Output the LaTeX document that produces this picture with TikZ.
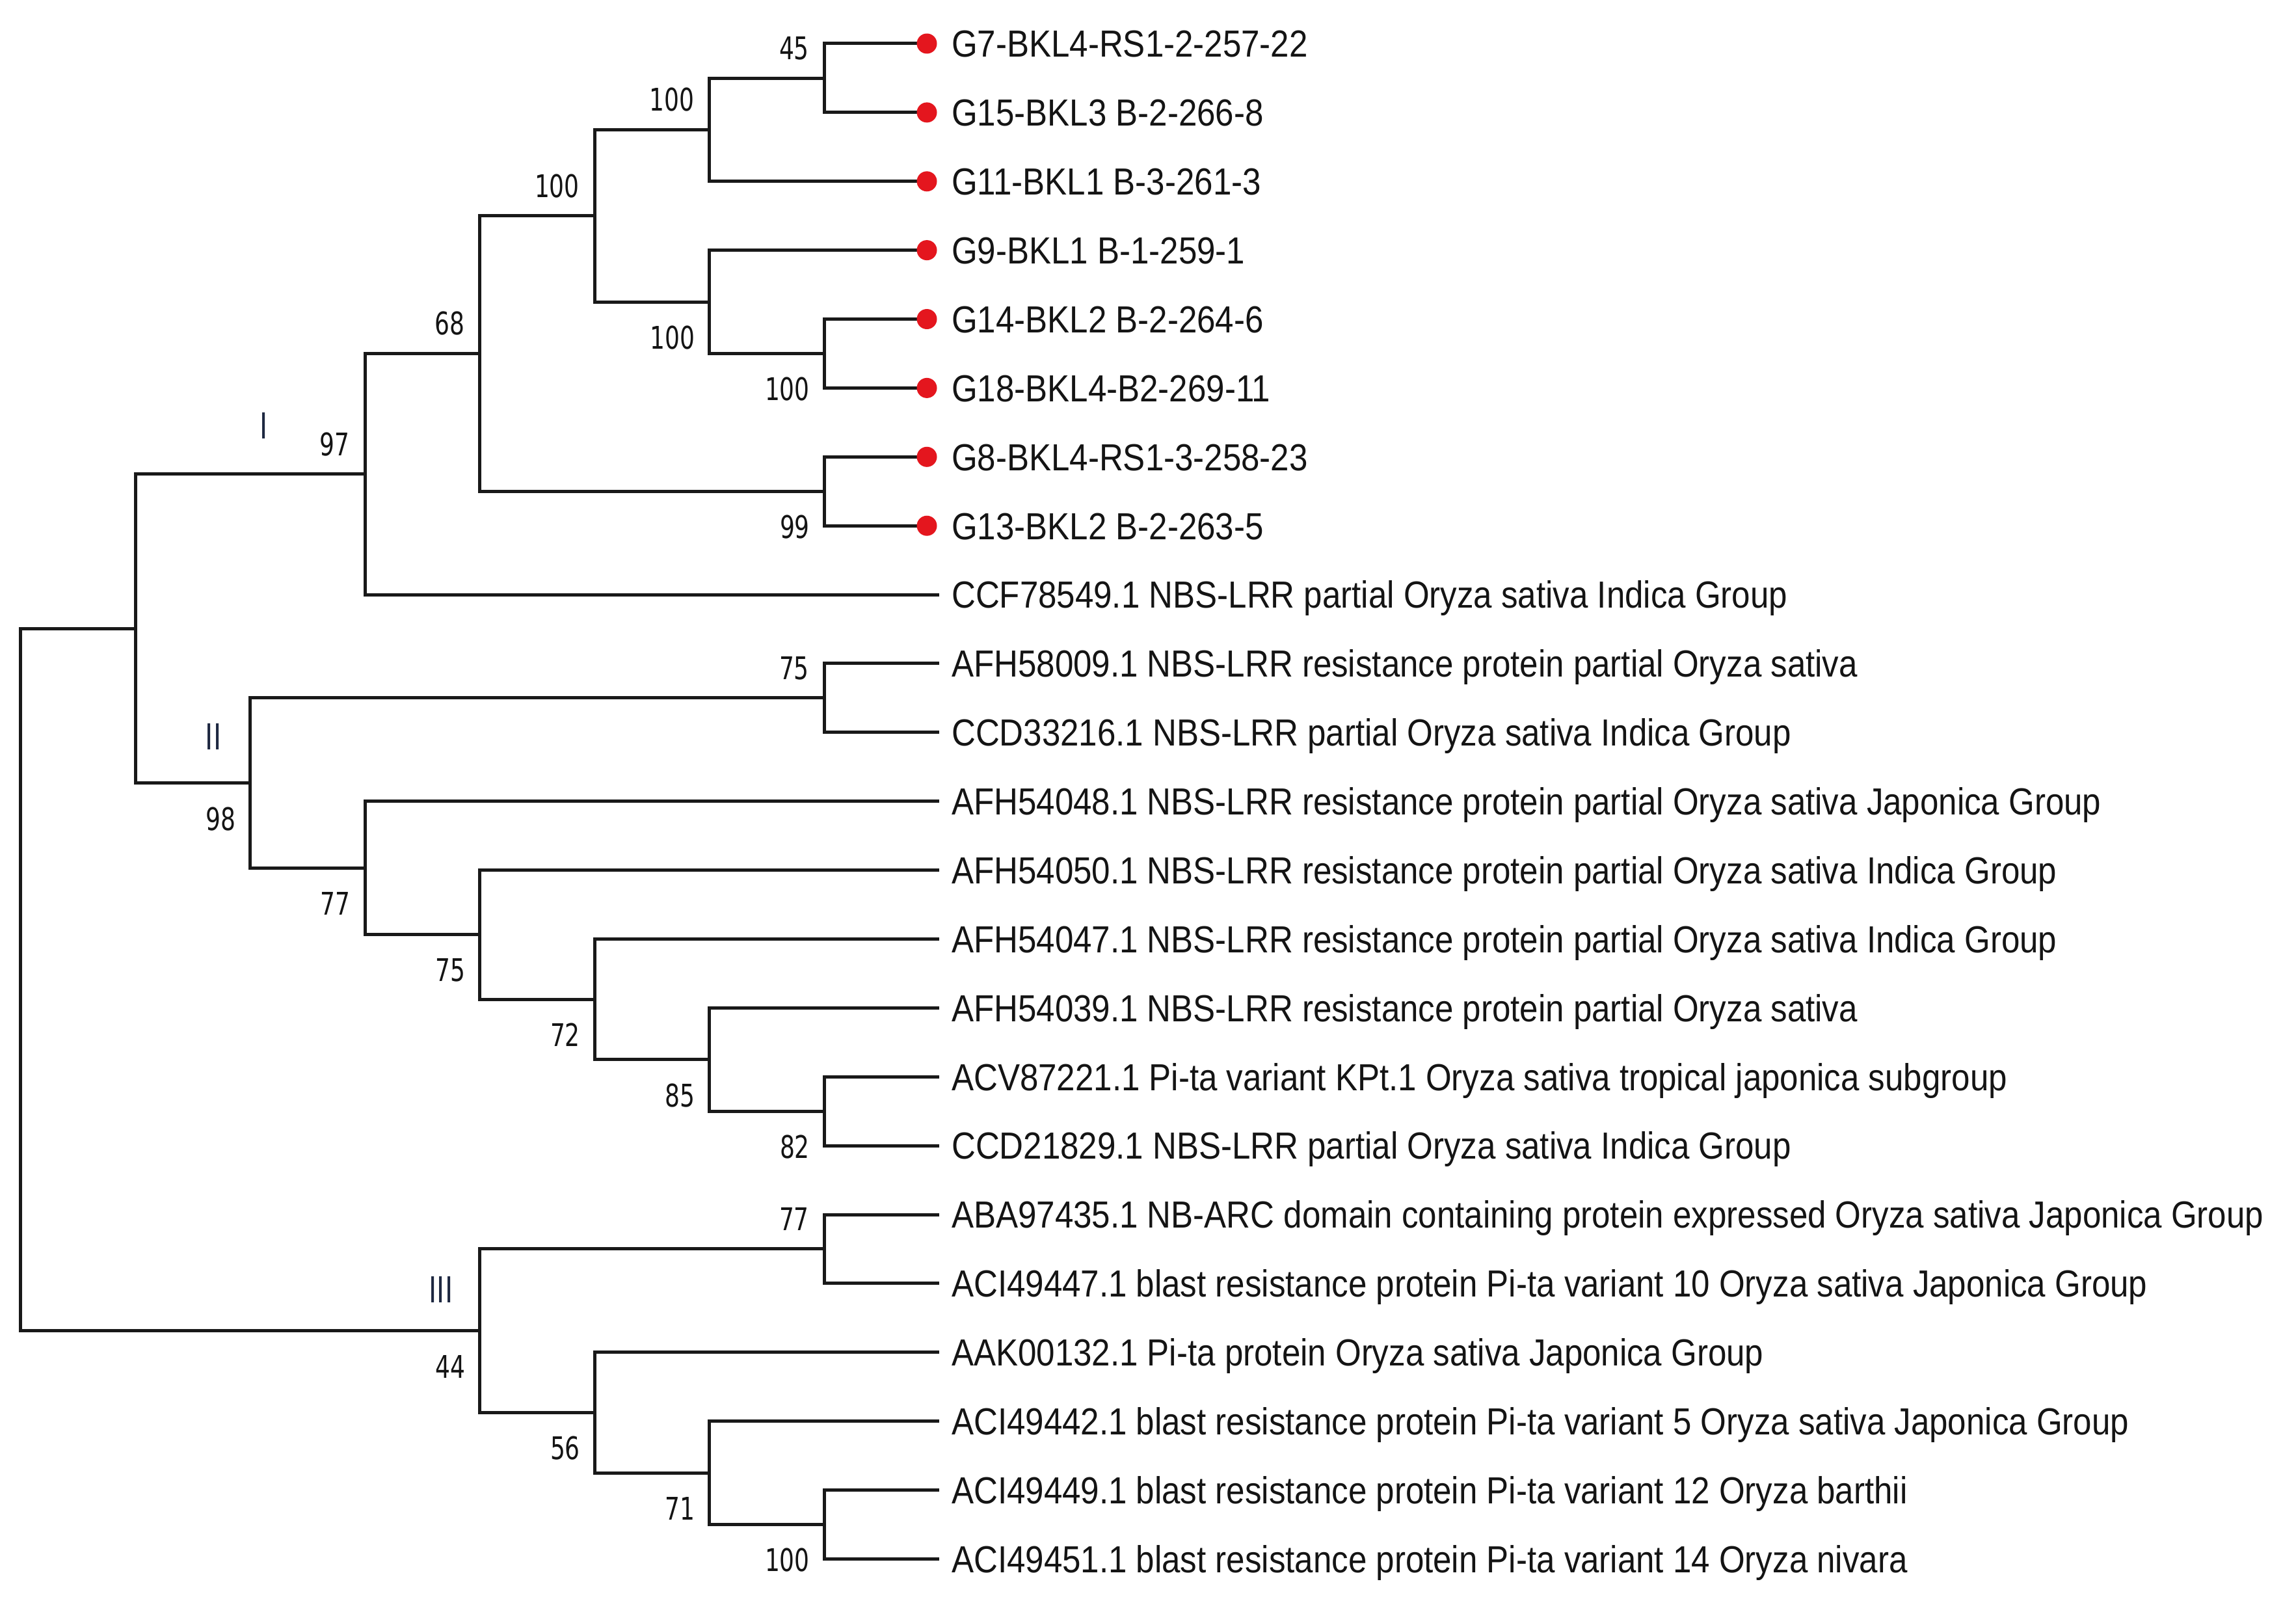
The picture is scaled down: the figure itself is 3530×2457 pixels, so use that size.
\documentclass[tikz,border=0pt]{standalone}
\usepackage{fontspec}
\newfontfamily\leaffont[FakeStretch=0.88]{Liberation Sans}
\newfontfamily\bsfont[FakeStretch=0.75]{DejaVu Sans}
\definecolor{linec}{RGB}{25,25,25}
\definecolor{dotred}{RGB}{228,22,30}
\definecolor{txtc}{RGB}{20,20,20}
\definecolor{romc}{RGB}{30,40,65}
\begin{document}
\begin{tikzpicture}[x=1pt,y=-1pt,
  br/.style={line width=5pt, draw=linec},
  leaflab/.style={anchor=base west, inner sep=0pt, text=txtc, font=\leaffont\fontsize{58}{60}\selectfont},
  bsnum/.style={anchor=east, inner sep=0pt, text=txtc, font=\bsfont\fontsize{48}{50}\selectfont},
  bsa/.style={bsnum, xshift=-23pt, yshift=46pt},
  bsb/.style={bsnum, xshift=-22pt, yshift=-55pt},
  romlab/.style={inner sep=0pt, text=romc, font=\bsfont\fontsize{55}{57}\selectfont},
  dotn/.style={circle, fill=dotred, minimum size=31pt, inner sep=0pt}]
\fill[white] (0,0) rectangle (3530,2457);
\useasboundingbox (0,0) rectangle (3530,2457);
% leaf end points
\coordinate (e0) at (1425,67);
\coordinate (e1) at (1425,172.9);
\coordinate (e2) at (1425,278.8);
\coordinate (e3) at (1425,384.6);
\coordinate (e4) at (1425,490.5);
\coordinate (e5) at (1425,596.4);
\coordinate (e6) at (1425,702.3);
\coordinate (e7) at (1425,808.2);
\coordinate (e8) at (1443.5,914.0);
\coordinate (e9) at (1443.5,1019.9);
\coordinate (e10) at (1443.5,1125.8);
\coordinate (e11) at (1443.5,1231.7);
\coordinate (e12) at (1443.5,1337.6);
\coordinate (e13) at (1443.5,1443.4);
\coordinate (e14) at (1443.5,1549.3);
\coordinate (e15) at (1443.5,1655.2);
\coordinate (e16) at (1443.5,1761.1);
\coordinate (e17) at (1443.5,1867.0);
\coordinate (e18) at (1443.5,1972.8);
\coordinate (e19) at (1443.5,2078.7);
\coordinate (e20) at (1443.5,2184.6);
\coordinate (e21) at (1443.5,2290.5);
\coordinate (e22) at (1443.5,2396.4);
% internal nodes
\coordinate (n45) at (1267,120.0);
\coordinate (nA100) at (1090.5,199.4);
\coordinate (nB100) at (1267,543.5);
\coordinate (nC100) at (1090.5,464.0);
\coordinate (nD100) at (914,331.7);
\coordinate (n99) at (1267,755.2);
\coordinate (n68) at (737.5,543.5);
\coordinate (n97) at (561,728.7);
\coordinate (n75a) at (1267,1072.9);
\coordinate (n82) at (1267,1708.1);
\coordinate (n85) at (1090.5,1628.7);
\coordinate (n72) at (914,1536.1);
\coordinate (n75b) at (737.5,1436.8);
\coordinate (n77a) at (561,1334.3);
\coordinate (n98) at (384.5,1203.6);
\coordinate (nA) at (208,966.2);
\coordinate (n77b) at (1267,1919.9);
\coordinate (n100e) at (1267,2343.4);
\coordinate (n71) at (1090.5,2264.0);
\coordinate (n56) at (914,2171.4);
\coordinate (n44) at (737.5,2045.6);
\coordinate (root) at (31.5,1505.9);
% branches
\draw[br] (e0) -| (n45) |- (e1);
\draw[br] (n45) -| (nA100) |- (e2);
\draw[br] (e4) -| (nB100) |- (e5);
\draw[br] (e3) -| (nC100) |- (nB100);
\draw[br] (nA100) -| (nD100) |- (nC100);
\draw[br] (e6) -| (n99) |- (e7);
\draw[br] (nD100) -| (n68) |- (n99);
\draw[br] (n68) -| (n97) |- (e8);
\draw[br] (e9) -| (n75a) |- (e10);
\draw[br] (e15) -| (n82) |- (e16);
\draw[br] (e14) -| (n85) |- (n82);
\draw[br] (e13) -| (n72) |- (n85);
\draw[br] (e12) -| (n75b) |- (n72);
\draw[br] (e11) -| (n77a) |- (n75b);
\draw[br] (n75a) -| (n98) |- (n77a);
\draw[br] (n97) -| (nA) |- (n98);
\draw[br] (e17) -| (n77b) |- (e18);
\draw[br] (e21) -| (n100e) |- (e22);
\draw[br] (e20) -| (n71) |- (n100e);
\draw[br] (e19) -| (n56) |- (n71);
\draw[br] (n77b) -| (n44) |- (n56);
\draw[br] (nA) -| (root) |- (n44);
% red dots
\foreach \i in {0,...,7} { \node[dotn] (dot\i) at (e\i) {}; }
% leaf labels
\node[leaflab] (t0) at (1463,87.8) {G7-BKL4-RS1-2-257-22};
\node[leaflab] (t1) at (1463,193.7) {G15-BKL3 B-2-266-8};
\node[leaflab] (t2) at (1463,299.6) {G11-BKL1 B-3-261-3};
\node[leaflab] (t3) at (1463,405.4) {G9-BKL1 B-1-259-1};
\node[leaflab] (t4) at (1463,511.3) {G14-BKL2 B-2-264-6};
\node[leaflab] (t5) at (1463,617.2) {G18-BKL4-B2-269-11};
\node[leaflab] (t6) at (1463,723.1) {G8-BKL4-RS1-3-258-23};
\node[leaflab] (t7) at (1463,829.0) {G13-BKL2 B-2-263-5};
\node[leaflab] (t8) at (1463,934.8) {CCF78549.1 NBS-LRR partial Oryza sativa Indica Group};
\node[leaflab] (t9) at (1463,1040.7) {AFH58009.1 NBS-LRR resistance protein partial Oryza sativa};
\node[leaflab] (t10) at (1463,1146.6) {CCD33216.1 NBS-LRR partial Oryza sativa Indica Group};
\node[leaflab] (t11) at (1463,1252.5) {AFH54048.1 NBS-LRR resistance protein partial Oryza sativa Japonica Group};
\node[leaflab] (t12) at (1463,1358.4) {AFH54050.1 NBS-LRR resistance protein partial Oryza sativa Indica Group};
\node[leaflab] (t13) at (1463,1464.2) {AFH54047.1 NBS-LRR resistance protein partial Oryza sativa Indica Group};
\node[leaflab] (t14) at (1463,1570.1) {AFH54039.1 NBS-LRR resistance protein partial Oryza sativa};
\node[leaflab] (t15) at (1463,1676.0) {ACV87221.1 Pi-ta variant KPt.1 Oryza sativa tropical japonica subgroup};
\node[leaflab] (t16) at (1463,1781.9) {CCD21829.1 NBS-LRR partial Oryza sativa Indica Group};
\node[leaflab] (t17) at (1463,1887.8) {ABA97435.1 NB-ARC domain containing protein expressed Oryza sativa Japonica Group};
\node[leaflab] (t18) at (1463,1993.6) {ACI49447.1 blast resistance protein Pi-ta variant 10 Oryza sativa Japonica Group};
\node[leaflab] (t19) at (1463,2099.5) {AAK00132.1 Pi-ta protein Oryza sativa Japonica Group};
\node[leaflab] (t20) at (1463,2205.4) {ACI49442.1 blast resistance protein Pi-ta variant 5 Oryza sativa Japonica Group};
\node[leaflab] (t21) at (1463,2311.3) {ACI49449.1 blast resistance protein Pi-ta variant 12 Oryza barthii};
\node[leaflab] (t22) at (1463,2417.2) {ACI49451.1 blast resistance protein Pi-ta variant 14 Oryza nivara};
% bootstrap values
\node[bsa] (b45) at (n45) {45};
\node[bsa] (bA100) at (nA100) {100};
\node[bsb] (bB100) at (nB100) {100};
\node[bsb] (bC100) at (nC100) {100};
\node[bsa] (bD100) at (nD100) {100};
\node[bsb] (b99) at (n99) {99};
\node[bsa] (b68) at (n68) {68};
\node[bsa] (b97) at (n97) {97};
\node[bsa] (b75a) at (n75a) {75};
\node[bsb] (b82) at (n82) {82};
\node[bsb] (b85) at (n85) {85};
\node[bsb] (b72) at (n72) {72};
\node[bsb] (b75b) at (n75b) {75};
\node[bsb] (b77a) at (n77a) {77};
\node[bsb] (b98) at (n98) {98};
\node[bsa] (b77b) at (n77b) {77};
\node[bsb] (b100e) at (n100e) {100};
\node[bsb] (b71) at (n71) {71};
\node[bsb] (b56) at (n56) {56};
\node[bsb] (b44) at (n44) {44};
% clade numerals
\node[romlab] (cI) at (406,654) {I};
\node[romlab] (cII) at (328,1132) {II};
\node[romlab] (cIII) at (678,1982) {III};
\end{tikzpicture}
\end{document}
